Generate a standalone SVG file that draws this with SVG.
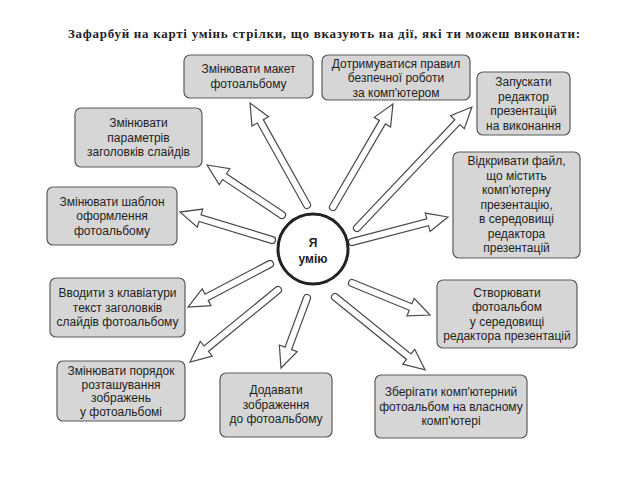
<svg xmlns="http://www.w3.org/2000/svg" width="640" height="480" viewBox="0 0 640 480">
<style>
.title{font-family:"Liberation Serif","Times New Roman",serif;font-weight:bold;font-size:13px;fill:#222}
.box rect{fill:#d6d6d6;stroke:#5a5a5a;stroke-width:1.2}
.box text{font-family:"Liberation Sans",Arial,sans-serif;font-size:12px;fill:#1e1e1e;text-anchor:middle}
.arrow{fill:#fff;stroke:#4a4a4a;stroke-width:1.2;stroke-linejoin:miter}
.center circle{fill:#fff;stroke:#222;stroke-width:3}
.center text{font-family:"Liberation Sans",Arial,sans-serif;font-weight:bold;font-size:12px;fill:#222;text-anchor:middle}
</style>
<rect width="640" height="480" fill="#fff"/>
<text class="title" x="68" y="38" textLength="512">Зафарбуй на карті умінь стрілки, що вказують на дії, які ти можеш виконати:</text>

<g id="connectors">
<path class="arrow" transform="translate(307,205) rotate(-119.2)" d="M0,-3.5 L95.8,-3.5 L95.8,-9.5 L116.8,0 L95.8,9.5 L95.8,3.5 L0,3.5 A3.5,3.5 0 0 1 0,-3.5 Z"/>
<path class="arrow" transform="translate(333,207) rotate(-59.8)" d="M0,-3.5 L98.2,-3.5 L98.2,-9.5 L119.2,0 L98.2,9.5 L98.2,3.5 L0,3.5 A3.5,3.5 0 0 1 0,-3.5 Z"/>
<path class="arrow" transform="translate(282,215) rotate(-146.3)" d="M0,-3.5 L69.1,-3.5 L69.1,-9.5 L90.1,0 L69.1,9.5 L69.1,3.5 L0,3.5 A3.5,3.5 0 0 1 0,-3.5 Z"/>
<path class="arrow" transform="translate(357,228) rotate(-46.5)" d="M0,-3.5 L145.9,-3.5 L145.9,-9.5 L166.9,0 L145.9,9.5 L145.9,3.5 L0,3.5 A3.5,3.5 0 0 1 0,-3.5 Z"/>
<path class="arrow" transform="translate(352,242) rotate(-14.6)" d="M0,-3.5 L78.2,-3.5 L78.2,-9.5 L99.2,0 L78.2,9.5 L78.2,3.5 L0,3.5 A3.5,3.5 0 0 1 0,-3.5 Z"/>
<path class="arrow" transform="translate(272,240) rotate(-163.1)" d="M0,-3.5 L75.2,-3.5 L75.2,-9.5 L96.2,0 L75.2,9.5 L75.2,3.5 L0,3.5 A3.5,3.5 0 0 1 0,-3.5 Z"/>
<path class="arrow" transform="translate(270,264) rotate(152.3)" d="M0,-3.5 L71.6,-3.5 L71.6,-9.5 L92.6,0 L71.6,9.5 L71.6,3.5 L0,3.5 A3.5,3.5 0 0 1 0,-3.5 Z"/>
<path class="arrow" transform="translate(352,283) rotate(22.3)" d="M0,-3.5 L63.3,-3.5 L63.3,-9.5 L84.3,0 L63.3,9.5 L63.3,3.5 L0,3.5 A3.5,3.5 0 0 1 0,-3.5 Z"/>
<path class="arrow" transform="translate(278,290) rotate(140.7)" d="M0,-3.5 L92.7,-3.5 L92.7,-9.5 L113.7,0 L92.7,9.5 L92.7,3.5 L0,3.5 A3.5,3.5 0 0 1 0,-3.5 Z"/>
<path class="arrow" transform="translate(307,298) rotate(110.4)" d="M0,-3.5 L53.7,-3.5 L53.7,-9.5 L74.7,0 L53.7,9.5 L53.7,3.5 L0,3.5 A3.5,3.5 0 0 1 0,-3.5 Z"/>
<path class="arrow" transform="translate(335,297) rotate(39)" d="M0,-3.5 L94.9,-3.5 L94.9,-9.5 L115.9,0 L94.9,9.5 L94.9,3.5 L0,3.5 A3.5,3.5 0 0 1 0,-3.5 Z"/>
</g>

<g id="center" class="center">
<circle cx="313" cy="249" r="35"/>
<text x="313" y="247">Я</text>
<text x="313" y="263">умію</text>
</g>

<g id="n1" class="box">
<rect x="184" y="55" width="129" height="43" rx="6"/>
<text x="248.5" y="73">Змінювати макет</text>
<text x="248.5" y="87.5">фотоальбому</text>
</g>
<g id="n2" class="box">
<rect x="322" y="55" width="148" height="45" rx="6"/>
<text x="396" y="67.5">Дотримуватися правил</text>
<text x="396" y="82">безпечної роботи</text>
<text x="396" y="96.5">за комп'ютером</text>
</g>
<g id="n3" class="box">
<rect x="75" y="108" width="127" height="59" rx="6"/>
<text x="138.5" y="127">Змінювати</text>
<text x="138.5" y="141.5">параметрів</text>
<text x="138.5" y="156">заголовків слайдів</text>
</g>
<g id="n4" class="box">
<rect x="477" y="72" width="93" height="63" rx="6"/>
<text x="523.5" y="86">Запускати</text>
<text x="523.5" y="100.5">редактор</text>
<text x="523.5" y="115">презентацій</text>
<text x="523.5" y="129.5">на виконання</text>
</g>
<g id="n5" class="box">
<rect x="453" y="152" width="127" height="106" rx="6"/>
<text x="516.5" y="165">Відкривати файл,</text>
<text x="516.5" y="179.5">що містить</text>
<text x="516.5" y="194">комп'ютерну</text>
<text x="516.5" y="208.5">презентацію,</text>
<text x="516.5" y="223">в середовищі</text>
<text x="516.5" y="237.5">редактора</text>
<text x="516.5" y="252">презентацій</text>
</g>
<g id="n6" class="box">
<rect x="47" y="187" width="130" height="58" rx="6"/>
<text x="112" y="205.5">Змінювати шаблон</text>
<text x="112" y="220">оформлення</text>
<text x="112" y="234.5">фотоальбому</text>
</g>
<g id="n7" class="box">
<rect x="50" y="278" width="135" height="59" rx="6"/>
<text x="117.5" y="297">Вводити з клавіатури</text>
<text x="117.5" y="311.5">текст заголовків</text>
<text x="117.5" y="326">слайдів фотоальбому</text>
</g>
<g id="n8" class="box">
<rect x="437" y="280" width="140" height="68" rx="6"/>
<text x="507" y="296.5">Створювати</text>
<text x="507" y="311">фотоальбом</text>
<text x="507" y="325.5">у середовищі</text>
<text x="507" y="340">редактора презентацій</text>
</g>
<g id="n9" class="box">
<rect x="57" y="361" width="128" height="60" rx="6"/>
<text x="121" y="375">Змінювати порядок</text>
<text x="121" y="388.5">розташування</text>
<text x="121" y="402">зображень</text>
<text x="121" y="415.5">у фотоальбомі</text>
</g>
<g id="n10" class="box">
<rect x="220" y="373" width="112" height="64" rx="6"/>
<text x="276" y="394">Додавати</text>
<text x="276" y="408.5">зображення</text>
<text x="276" y="423">до фотоальбому</text>
</g>
<g id="n11" class="box">
<rect x="375" y="375" width="152" height="63" rx="6"/>
<text x="451" y="396">Зберігати комп'ютерний</text>
<text x="451" y="410.5">фотоальбом на власному</text>
<text x="451" y="425">комп'ютері</text>
</g>
</svg>
